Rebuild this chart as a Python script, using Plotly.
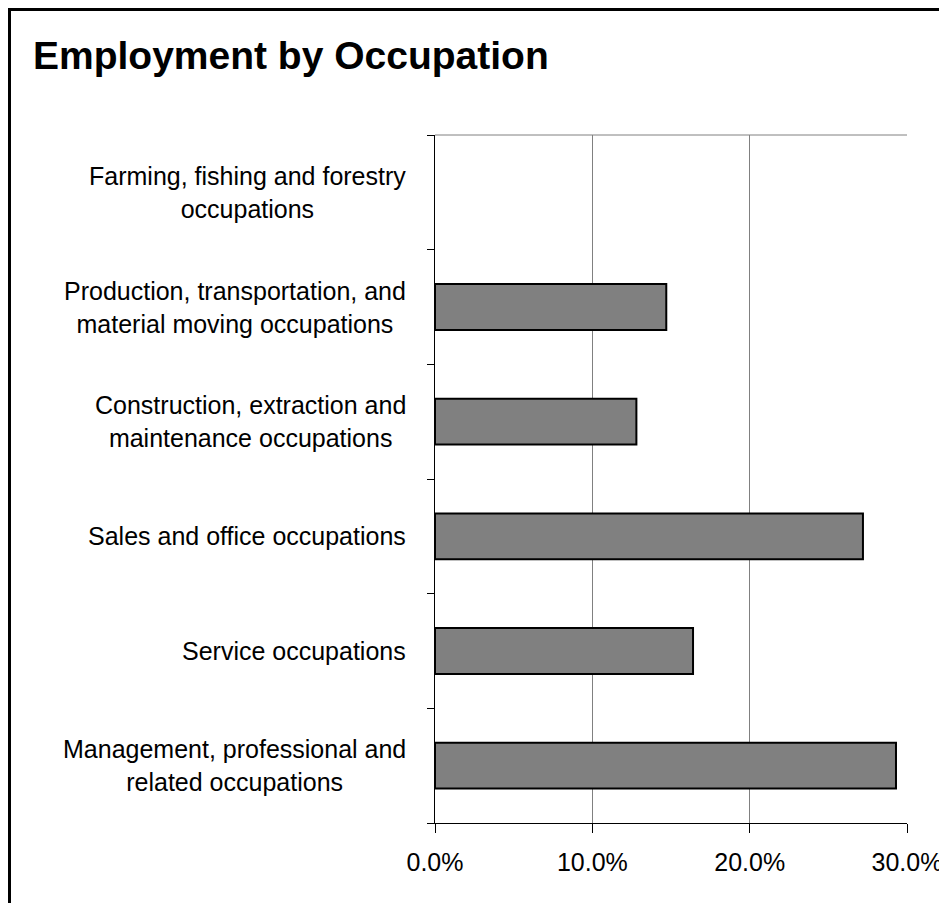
import plotly.graph_objects as go

# ── Data ──────────────────────────────────────────────────────────────────────
occupations = [
    "Management, professional and<br>related occupations",
    "Service occupations",
    "Sales and office occupations",
    "Construction, extraction and<br>maintenance occupations",
    "Production, transportation, and<br>material moving occupations",
    "Farming, fishing and forestry<br>occupations",
]
share_pct = [29.3, 16.4, 27.2, 12.8, 14.7, 0.0]
x_ticks = [0, 10, 20, 30]
x_tick_labels = ["0.0%", "10.0%", "20.0%", "30.0%"]

FONT = "Arial, Liberation Sans, sans-serif"
L, R, T, B = 427, 48, 127, 88
W, H = 947, 903
PW, PH = W - L - R, H - T - B

fig = go.Figure(go.Bar(
    x=share_pct, y=occupations,
    orientation="h",
    marker=dict(color="#808080",
                line=dict(color="black", width=[2 if v > 0 else 0 for v in share_pct])),
    hovertemplate="%{y}: %{x:.1f}%<extra></extra>",
))

fig.update_layout(
    width=W, height=H,
    margin=dict(l=L, r=R, t=T, b=B),
    plot_bgcolor="white",
    paper_bgcolor="white",
    showlegend=False,
    bargap=0.6,
    font=dict(family=FONT, size=25, color="black"),
    title=dict(text="<b>Employment by Occupation</b>", font=dict(size=39, color="black"),
               xref="container", x=25 / W, xanchor="left",
               yref="container", y=1 - 47 / H, yanchor="middle"),
)

fig.update_xaxes(
    range=[0, 30], tickvals=x_ticks, ticktext=x_tick_labels,
    showgrid=True, gridcolor="#808080", gridwidth=1,
    zeroline=False, showline=True, linecolor="black", linewidth=1,
    ticks="outside", ticklen=9, tickcolor="black",
    ticklabelstandoff=8,
    tickfont=dict(size=25),
)
fig.update_yaxes(
    showticklabels=False, tickson="boundaries",
    ticks="outside", ticklen=7, tickcolor="black",
    showline=True, linecolor="black", linewidth=1,
    showgrid=False, zeroline=False,
)

# centred multi-line category labels
for occ in occupations:
    fig.add_annotation(
        text=occ, x=0, xref="paper", y=occ, yref="y",
        xanchor="right", align="center", showarrow=False, xshift=-27,
        font=dict(size=25, family=FONT, color="black"),
    )

# top edge of plot area + outer chart border
fig.add_shape(type="line", xref="paper", yref="paper", x0=0, x1=1, y0=1, y1=1,
              line=dict(color="#808080", width=1))
fig.add_shape(type="rect", xref="paper", yref="paper",
              x0=(1.5 - L) / PW, x1=(935.5 - L) / PW,
              y0=-0.3, y1=1 + (T - 1.5) / PH,
              line=dict(color="black", width=3))

fig.write_html("out.html")
